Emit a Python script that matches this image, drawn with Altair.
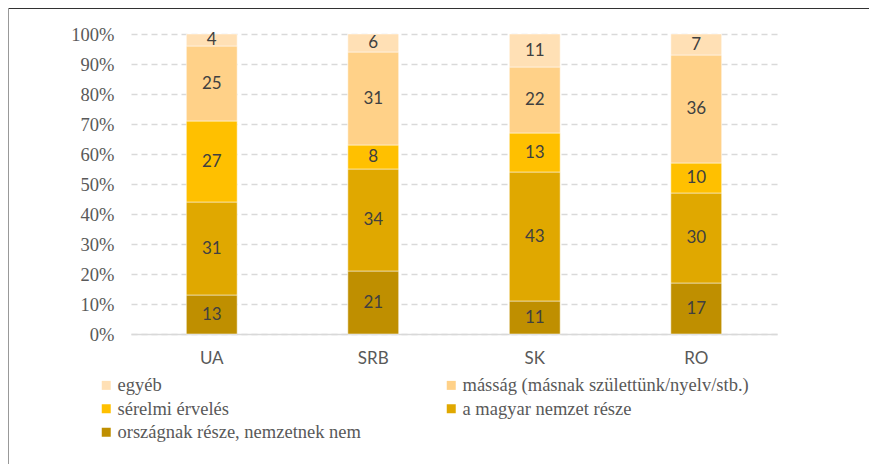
import altair as alt
import pandas as pd

countries = ["UA", "SRB", "SK", "RO"]
categories = [
    "országnak része, nemzetnek nem",
    "a magyar nemzet része",
    "sérelmi érvelés",
    "másság (másnak születtünk/nyelv/stb.)",
    "egyéb",
]
colors = ["#BF8F00", "#E0A800", "#FFC000", "#FFD188", "#FFE0B5"]
# legend is laid out column by column (3 rows): gives rows
# egyéb | másság ; sérelmi | a magyar ; országnak
legend_order = [
    "egyéb",
    "sérelmi érvelés",
    "országnak része, nemzetnek nem",
    "másság (másnak születtünk/nyelv/stb.)",
    "a magyar nemzet része",
]
values = {
    "UA": [13, 31, 27, 25, 4],
    "SRB": [21, 34, 8, 31, 6],
    "SK": [11, 43, 13, 22, 11],
    "RO": [17, 30, 10, 36, 7],
}
y_ticks = [0, 0.1, 0.2, 0.3, 0.4, 0.5, 0.6, 0.7, 0.8, 0.9, 1.0]

color_of = dict(zip(categories, colors))
legend_colors = [color_of[c] for c in legend_order]

rows = []
for c in countries:
    for i, cat in enumerate(categories):
        rows.append({"country": c, "cat": cat, "order": i, "value": values[c][i]})
df = pd.DataFrame(rows)

SERIF = "Liberation Serif"
SANS = "Lato"

base = alt.Chart(df).transform_stack(
    stack="value", groupby=["country"], as_=["y0", "y1"],
    sort=[alt.SortField("order", order="ascending")]
).transform_calculate(
    p0="datum.y0/100", p1="datum.y1/100", mid="(datum.y0+datum.y1)/200"
)

xenc = alt.X("country:N", sort=countries, title=None,
             scale=alt.Scale(paddingInner=0.685, paddingOuter=0.3425),
             axis=alt.Axis(labelAngle=0, ticks=False, domainColor="#D9D9D9",
                           domainWidth=1.5, labelFont=SANS,
                           labelFontSize=17, labelColor="#595959", labelPadding=16))

yscale = alt.Scale(domain=[0, 1], nice=False)
yaxis = alt.Axis(format=".0%", values=y_ticks, labelOverlap=False,
                 domain=False, ticks=False, labelFont=SERIF,
                 labelFontSize=18.5, labelColor="#595959", labelPadding=17,
                 gridColor="#D9D9D9", gridDash=[6, 4], gridWidth=1.5)

bars = base.mark_bar(stroke="white", strokeWidth=0.5).encode(
    x=xenc,
    y=alt.Y("p0:Q", title=None, scale=yscale, axis=yaxis),
    y2="p1:Q",
    color=alt.Color("cat:N",
                    scale=alt.Scale(domain=legend_order, range=legend_colors),
                    legend=alt.Legend(title=None, orient="none", legendX=-34, legendY=342,
                                      columns=2, columnPadding=81, rowPadding=4.5,
                                      symbolType="square", symbolSize=81,
                                      symbolStrokeWidth=0, labelOffset=2,
                                      labelFont=SERIF, labelFontSize=18.5,
                                      labelColor="#595959", labelLimit=400)),
)

labels = base.mark_text(font=SANS, fontSize=17, color="#404040").encode(
    x=alt.X("country:N", sort=countries, title=None),
    y=alt.Y("mid:Q", title=None, scale=yscale, axis=yaxis),
    text=alt.Text("value:Q"),
)

frame_top = alt.Chart(df).mark_rule(color="#333333", strokeWidth=1.5).encode(
    x=alt.value(-124), x2=alt.value(740), y=alt.value(-26))
frame_left = alt.Chart(df).mark_rule(color="#999999", strokeWidth=2).encode(
    x=alt.value(-123), y=alt.value(-26), y2=alt.value(430))

chart = alt.layer(bars, labels, frame_top, frame_left).properties(
    width=646, height=300,
    autosize=alt.AutoSizeParams(type="none"),
    padding={"left": 123, "top": 26, "right": 92, "bottom": 131},
).configure_view(stroke=None)

chart.save("out.html", embed_options={"renderer": "svg", "actions": False})
